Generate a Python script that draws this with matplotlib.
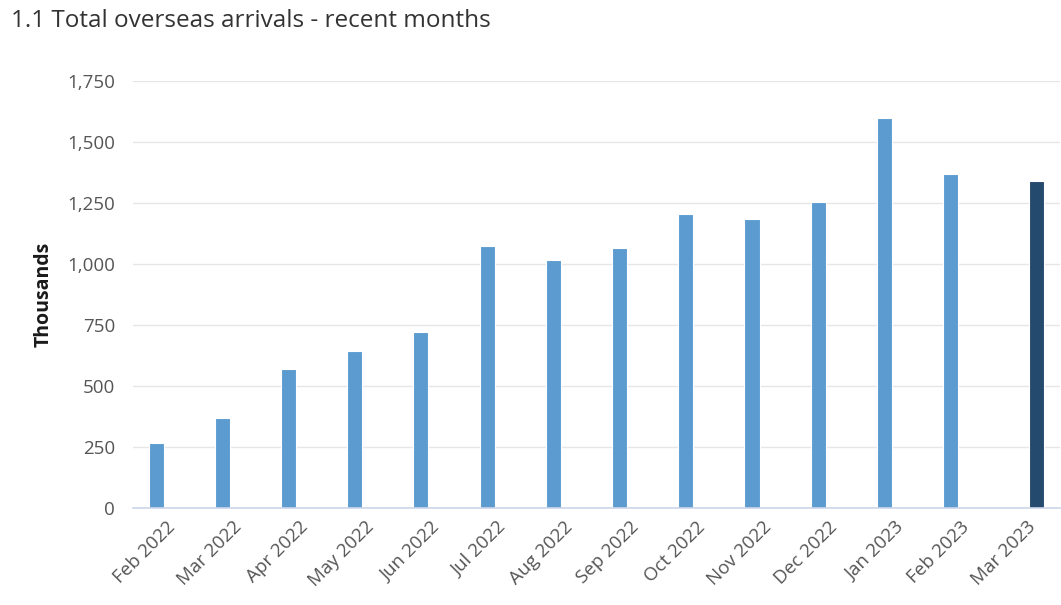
import numpy as np
import matplotlib
matplotlib.use("Agg")
import matplotlib.pyplot as plt

plt.rcParams["font.family"] = ["Open Sans", "DejaVu Sans"]

months = ["Feb 2022", "Mar 2022", "Apr 2022", "May 2022", "Jun 2022", "Jul 2022",
          "Aug 2022", "Sep 2022", "Oct 2022", "Nov 2022", "Dec 2022", "Jan 2023",
          "Feb 2023", "Mar 2023"]
# thousands of arrivals
previous = [266, 369, 570, 643, 721, 1074, 1016, 1065, 1204, 1184, 1255, 1598, 1368, np.nan]
latest = [np.nan] * 13 + [1342]
yticks = [0, 250, 500, 750, 1000, 1250, 1500, 1750]

fig = plt.figure(figsize=(10.61, 6.05), dpi=100)
ax = fig.add_axes([0.1254, 0.1598, 0.8736, 0.7063])

x = np.arange(len(months))
w = 0.227
ax.bar(x - 0.151, previous, width=w, color="#5b9bcf", edgecolor="#ffffff", linewidth=0.8, zorder=3)
ax.bar(x + 0.151, latest, width=w, color="#244a6e", edgecolor="#ffffff", linewidth=0.8, zorder=3)

ax.set_xlim(-0.5, len(months) - 0.5)
ax.set_ylim(0, 1750)
ax.set_yticks(yticks)
ax.set_yticklabels([f"{v:,}" for v in yticks], fontsize=13.5, color="#555555")
ax.set_xticks(x)
ax.set_xticklabels(months, rotation=45, ha="right", rotation_mode="anchor",
                   fontsize=13.5, color="#555555")
ax.tick_params(axis="both", length=0)
ax.tick_params(axis="y", pad=13)
ax.tick_params(axis="x", pad=7)

ax.grid(axis="y", color="#e6e6e6", linewidth=1, zorder=0)
for s in ["top", "right", "left"]:
    ax.spines[s].set_visible(False)
ax.spines["bottom"].set_color("#ccd6eb")
ax.spines["bottom"].set_linewidth(1.2)
ax.spines["bottom"].set_zorder(4)

ax.set_ylabel("Thousands", fontsize=14, fontweight="bold", color="#1a1a1a", labelpad=10)

fig.text(0.0104, 0.966, "1.1 Total overseas arrivals - recent months", fontsize=17.5,
         color="#333333", ha="left", va="center")

fig.savefig("out.png", dpi=100)
